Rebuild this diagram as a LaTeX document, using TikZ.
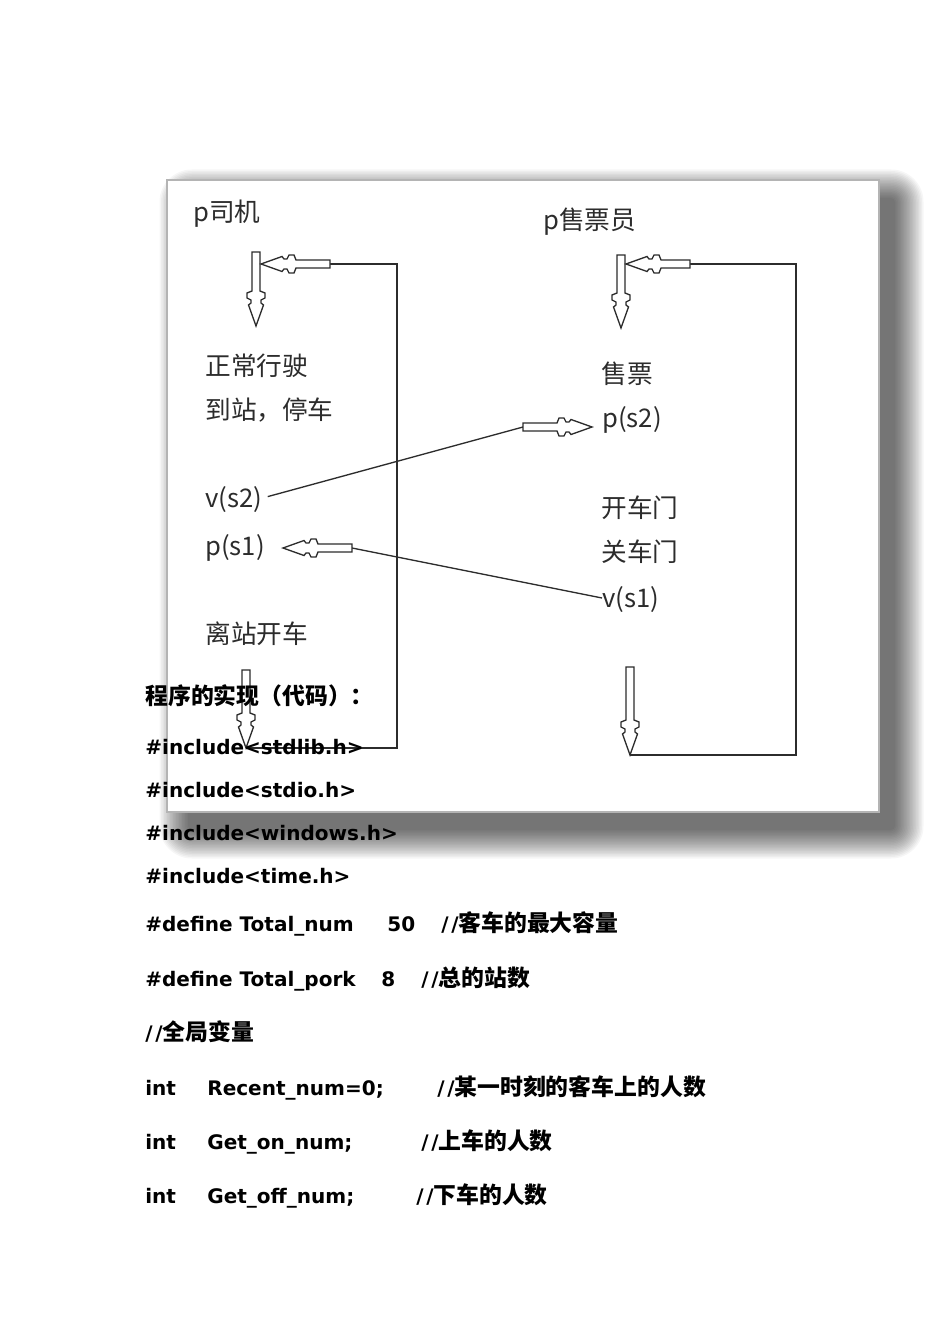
\documentclass[tikz,border=0pt]{standalone}
\usepackage{fontspec}
\usepackage{xcolor}
\usepackage{tikz}
\newfontfamily\cjkfont{Noto Sans CJK SC}
\newfontfamily\codefont{DejaVu Sans}
\newcommand{\zh}{\cjkfont\fontsize{13}{15}\selectfont}
\newcommand{\slashes}{/\kern1.5pt/}
\definecolor{inkgray}{HTML}{2C2C2C}
\definecolor{framegray}{HTML}{B4B4B4}

\begin{document}
\begin{tikzpicture}[x=0.02cm, y=-0.02cm,
  figtext/.style={font=\cjkfont\fontsize{14.6}{17}\selectfont, text=inkgray, anchor=west, inner sep=0pt, text height=12.5pt, text depth=2pt},
  codetext/.style={font=\codefont\bfseries\fontsize{11.4}{14}\selectfont, anchor=west, inner sep=0pt, text height=10pt, text depth=1.5pt},
  linkpen/.style={draw=inkgray, line width=0.75pt},
  arrowpen/.style={draw=inkgray, line width=0.75pt, fill=white},
  pics/hollowarrow/.style={code={
    \draw[arrowpen] (-#1,-4) -- (-35,-4) -- (-33,-9) -- (-28,-9) -- (-26,-5) -- (-23,-5) -- (-21,-7.5) -- (0,0)
      -- (-21,7.5) -- (-23,5) -- (-26,5) -- (-28,9) -- (-33,9) -- (-35,4) -- (-#1,4) -- cycle;}}]
\useasboundingbox (0,0) rectangle (950,1344);
\fill[white] (0,0) rectangle (950,1344);

\foreach \g in {1,...,20}{
  \pgfmathsetmacro\e{(20-\g)*1.5}
  \pgfmathsetmacro\rc{(\e+4)*0.5669}
  \fill[black, opacity=0.034, rounded corners=\rc pt] (188-\e,198-\e) rectangle (895+\e,830+\e);
}
\filldraw[fill=white, draw=framegray, line width=0.6pt] (167,180) rectangle (879,812);

\node[figtext] (drv) at (193,212) {p司机};
\node[figtext] (slr) at (543,220) {p售票员};
\node[figtext] (drvRun) at (205,366) {正常行驶};
\node[figtext] (drvStop) at (205,410) {到站，停车};
\node[figtext] (drvV) at (205,498) {v(s2)};
\node[figtext] (drvP) at (205,546) {p(s1)};
\node[figtext] (drvLeave) at (205,634) {离站开车};
\node[figtext] (slrSell) at (601,374) {售票};
\node[figtext] (slrP) at (602,418) {p(s2)};
\node[figtext] (slrOpen) at (601,508) {开车门};
\node[figtext] (slrClose) at (601,552) {关车门};
\node[figtext] (slrV) at (602,598) {v(s1)};

\coordinate (dTopTip) at (256,326);
\coordinate (dBackTip) at (261,264);
\coordinate (dBackTail) at (330,264);
\coordinate (dCorner) at (397,264);
\coordinate (dExitTip) at (246,748);
\coordinate (sTopTip) at (621,328);
\coordinate (sBackTip) at (626,264);
\coordinate (sBackTail) at (690,264);
\coordinate (sCorner) at (796,264);
\coordinate (sExitTip) at (630,755);
\coordinate (sSignalTail) at (523,427);
\coordinate (sSignalTip) at (592,427);
\coordinate (dSignalTail) at (352,548);
\coordinate (dSignalTip) at (283,548);

\draw[linkpen] (dExitTip) -| (dCorner) -- (dBackTail);
\draw[linkpen] (sExitTip) -| (sCorner) -- (sBackTail);
\draw[linkpen, shorten <=3pt] (drvV.east) -- (sSignalTail);
\draw[linkpen] (slrV.west) -- (dSignalTail);

\pic[rotate=-90] at (dTopTip) {hollowarrow=74};
\pic[rotate=180] at (dBackTip) {hollowarrow=69};
\pic[rotate=-90] at (dExitTip) {hollowarrow=78};
\pic[rotate=-90] at (sTopTip) {hollowarrow=73};
\pic[rotate=180] at (sBackTip) {hollowarrow=64};
\pic[rotate=-90] at (sExitTip) {hollowarrow=88};
\pic at (sSignalTip) {hollowarrow=69};
\pic[rotate=180] at (dSignalTip) {hollowarrow=69};

\node[codetext] (codeHead) at (145,697) {\zh 程序的实现（代码）：};
\node[codetext] (incStdlib) at (145,747) {\#include<stdlib.h>};
\node[codetext] (incStdio) at (145,790) {\#include<stdio.h>};
\node[codetext] (incWindows) at (145,833) {\#include<windows.h>};
\node[codetext] (incTime) at (145,876) {\#include<time.h>};
\node[codetext] (defNum) at (145,924) {\#define Total\_num};
\node[codetext] (defNumVal) at (387,924) {50};
\node[codetext] (defNumNote) at (441,924) {\slashes{\zh 客车的最大容量}};
\node[codetext] (defPork) at (145,979) {\#define Total\_pork};
\node[codetext] (defPorkVal) at (381,979) {8};
\node[codetext] (defPorkNote) at (421,979) {\slashes{\zh 总的站数}};
\node[codetext] (globalNote) at (145,1033) {\slashes{\zh 全局变量}};
\node[codetext] (intRecent) at (145,1088) {int};
\node[codetext] (recentName) at (207,1088) {Recent\_num=0;};
\node[codetext] (recentNote) at (437,1088) {\slashes{\zh 某一时刻的客车上的人数}};
\node[codetext] (intOn) at (145,1142) {int};
\node[codetext] (onName) at (207,1142) {Get\_on\_num;};
\node[codetext] (onNote) at (421,1142) {\slashes{\zh 上车的人数}};
\node[codetext] (intOff) at (145,1196) {int};
\node[codetext] (offName) at (207,1196) {Get\_off\_num;};
\node[codetext] (offNote) at (416,1196) {\slashes{\zh 下车的人数}};
\end{tikzpicture}
\end{document}
